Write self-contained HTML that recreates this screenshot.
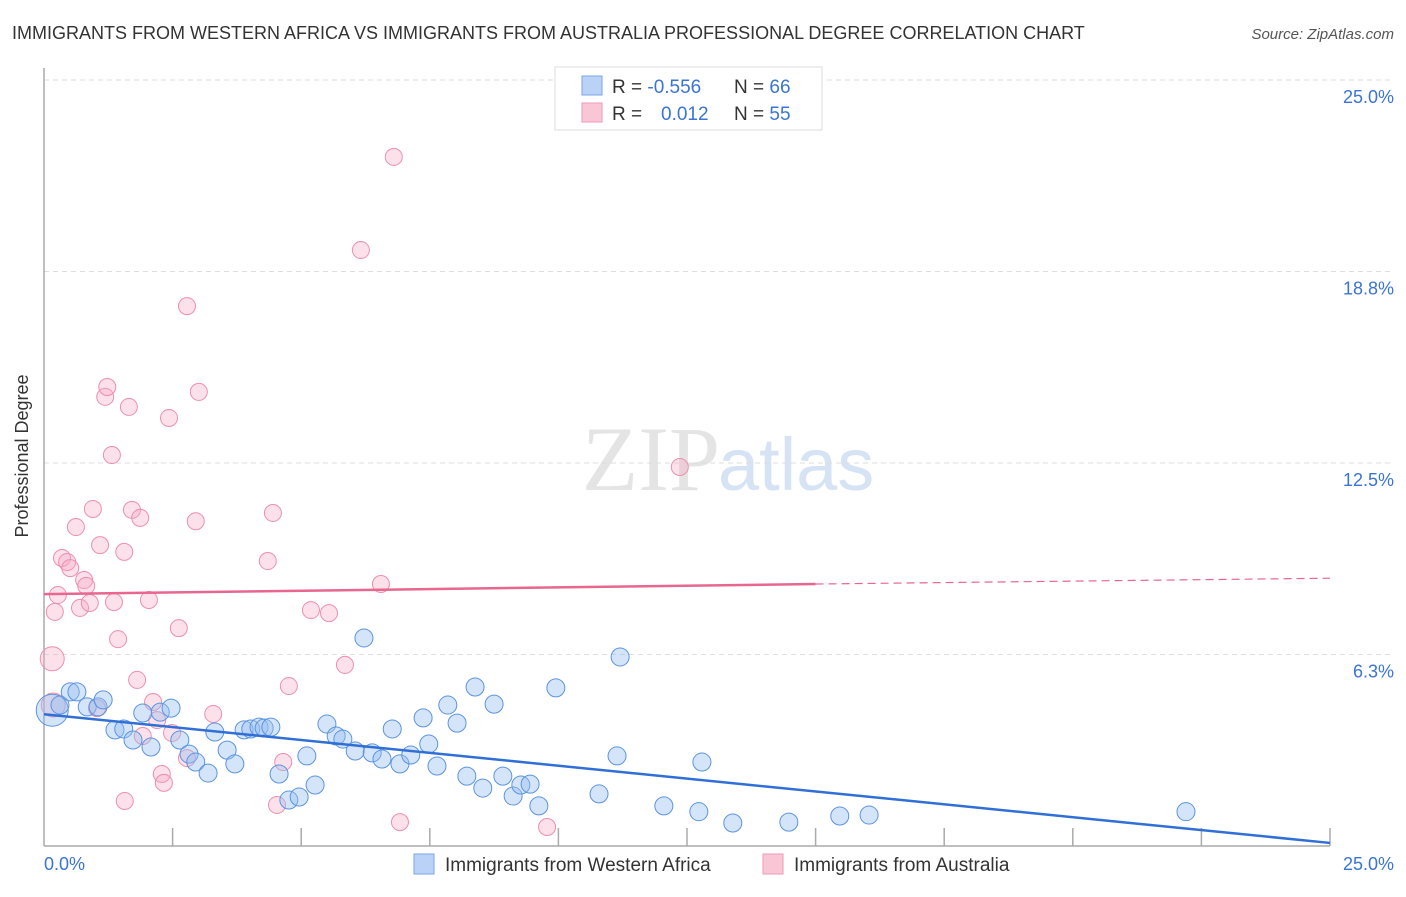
<!DOCTYPE html>
<html><head><meta charset="utf-8"><style>
body{margin:0;background:#fff;font-family:"Liberation Sans",sans-serif}
</style></head><body>
<svg width="1406" height="892" xmlns="http://www.w3.org/2000/svg">
<text x="12" y="39" font-size="18" fill="#333">IMMIGRANTS FROM WESTERN AFRICA VS IMMIGRANTS FROM AUSTRALIA PROFESSIONAL DEGREE CORRELATION CHART</text>
<text x="1394" y="39" font-size="15" fill="#555" font-style="italic" text-anchor="end">Source: ZipAtlas.com</text>
<text x="720" y="490" font-size="92" fill="#e4e4e4" text-anchor="end" font-family="Liberation Serif,serif">ZIP</text>
<text x="718" y="490" font-size="74" fill="#d5e3f5">atlas</text>
<g id="grid"></g>
<line x1="44" y1="68" x2="44" y2="846" stroke="#aaa" stroke-width="1.5"/>
<line x1="44" y1="846" x2="1330" y2="846" stroke="#aaa" stroke-width="1.5"/>
<g id="ticks"></g>
<text x="28" y="456" font-size="18" fill="#333" text-anchor="middle" transform="rotate(-90 28 456)">Professional Degree</text>
<text x="44" y="870" font-size="18" fill="#3a74d6">0.0%</text>
<text x="1394" y="870" font-size="18" fill="#3a74d6" text-anchor="end">25.0%</text>
<g id="pts"></g>
<g id="trend"></g>
<g>
<rect x="555" y="67" width="267" height="63" fill="#fff" stroke="#ddd"/>
<rect x="582" y="76" width="20" height="19" fill="#b9d2f5" stroke="#7aa6e8"/>
<rect x="582" y="103" width="20" height="19" fill="#f9c6d5" stroke="#ee9ab4"/>
<text x="612" y="93" font-size="19" fill="#333">R = <tspan fill="#3a74d6">-0.556</tspan><tspan x="734">N = </tspan><tspan fill="#3a74d6">66</tspan></text>
<text x="612" y="120" font-size="19" fill="#333">R = <tspan x="661" fill="#3a74d6">0.012</tspan><tspan x="734">N = </tspan><tspan fill="#3a74d6">55</tspan></text>
</g>
<g>
<rect x="414" y="854" width="20" height="20" fill="#b9d2f5" stroke="#7aa6e8"/>
<text x="445" y="871" font-size="19" fill="#333">Immigrants from Western Africa</text>
<rect x="763" y="854" width="20" height="20" fill="#f9c6d5" stroke="#ee9ab4"/>
<text x="794" y="871" font-size="19" fill="#333">Immigrants from Australia</text>
</g>
</svg>
<script>
const yTicks=[6.3,12.5,18.8,25.0];
const xTicks=[2.5,5,7.5,10,12.5,15,17.5,20,22.5,25];
const blueX=[0.16,0.31,0.51,0.64,0.84,1.05,1.15,1.38,1.55,1.73,1.92,2.08,2.26,2.47,2.64,2.82,2.95,3.19,3.32,3.56,3.71,3.89,4.02,4.18,4.28,4.41,4.57,4.76,4.96,5.11,5.27,5.5,5.68,5.81,6.05,6.38,6.57,6.77,6.92,7.13,7.37,7.48,7.64,7.85,8.03,8.22,8.38,8.53,8.75,8.92,9.12,9.27,9.45,9.62,9.95,10.79,11.14,11.2,12.05,12.73,12.79,13.39,14.48,15.47,16.04,22.2,6.22];
const blueY=[4.43,4.6,5.03,5.03,4.54,4.54,4.77,3.79,3.82,3.46,4.34,3.23,4.37,4.5,3.46,3.0,2.74,2.38,3.72,3.13,2.68,3.79,3.82,3.88,3.85,3.88,2.35,1.5,1.6,2.94,1.99,3.98,3.59,3.49,3.1,3.04,2.84,3.82,2.68,2.97,4.18,3.33,2.61,4.6,4.01,2.28,5.19,1.89,4.63,2.28,1.63,1.99,2.02,1.31,5.16,1.7,2.94,6.17,1.31,1.12,2.74,0.75,0.78,0.98,1.01,1.12,6.79];
const pinkX=[0.18,0.16,0.21,0.27,0.35,0.45,0.51,0.62,0.7,0.78,0.82,0.89,0.95,1.03,1.09,1.19,1.23,1.32,1.36,1.44,1.56,1.57,1.65,1.71,1.81,1.87,1.92,2.04,2.12,2.2,2.29,2.33,2.43,2.49,2.62,2.78,2.78,2.95,3.01,3.29,4.35,4.45,4.53,4.65,4.76,5.19,5.54,5.85,6.16,6.55,6.8,6.92,9.78,12.36];
const pinkY=[4.6,6.11,7.64,8.19,9.4,9.27,9.07,10.41,7.77,8.68,8.49,7.93,11.0,4.5,9.82,14.66,14.98,12.76,7.96,6.75,9.6,1.47,14.33,10.97,5.42,10.71,3.59,8.03,4.7,4.11,2.35,2.06,13.97,3.69,7.11,17.62,2.87,10.6,14.82,4.31,9.3,10.87,1.34,2.74,5.22,7.7,7.6,5.91,19.45,8.55,22.49,0.78,0.62,12.37];
const blueTrend=[0,4.3,25,0.1];
const pinkTrend=[0,8.22,15,8.55,25,8.74];
const X=v=>44+v*51.44, Y=v=>846-v*30.64;
const NS="http://www.w3.org/2000/svg";
function mk(p,t,a){const e=document.createElementNS(NS,t);for(const k in a)e.setAttribute(k,a[k]);p.appendChild(e);return e;}
const grid=document.getElementById('grid'),ticks=document.getElementById('ticks'),pts=document.getElementById('pts'),tr=document.getElementById('trend');
yTicks.forEach(v=>{const y=Y(v===25?25:v===18.8?18.75:v===12.5?12.5:6.25);
const l=mk(grid,'line',{x1:44,x2:1394,y1:y,y2:y,stroke:'#ddd','stroke-dasharray':'5,4'});


const t=mk(grid,'text',{x:1394,y:y+23,'font-size':18,fill:'#3a74d6','text-anchor':'end'});t.textContent=v.toFixed(1)+'%';

});
xTicks.forEach(v=>{const l=mk(ticks,'line',{x1:X(v),x2:X(v),y1:828,y2:846,stroke:'#aaa','stroke-width':1.5});

});
pinkX.forEach((x,i)=>{const c=mk(pts,'circle',{cx:X(x),cy:Y(pinkY[i]),r:i<2?12:8.5,fill:'rgba(246,170,195,0.35)',stroke:'#ee8fae','stroke-width':1});

});
blueX.forEach((x,i)=>{const c=mk(pts,'circle',{cx:X(x),cy:Y(blueY[i]),r:i==0?16:9,fill:'rgba(150,190,240,0.4)',stroke:'#5b94e0','stroke-width':1});

});
let l=mk(tr,'line',{x1:X(blueTrend[0]),y1:Y(blueTrend[1]),x2:X(blueTrend[2]),y2:Y(blueTrend[3]),stroke:'#2f6fd6','stroke-width':2.5});


l=mk(tr,'line',{x1:X(pinkTrend[0]),y1:Y(pinkTrend[1]),x2:X(pinkTrend[2]),y2:Y(pinkTrend[3]),stroke:'#e8668f','stroke-width':2.5});


l=mk(tr,'line',{x1:X(pinkTrend[2]),y1:Y(pinkTrend[3]),x2:X(pinkTrend[4]),y2:Y(pinkTrend[5]),stroke:'#e8668f','stroke-width':1.2,'stroke-dasharray':'8,5'});


</script>
</body></html>
